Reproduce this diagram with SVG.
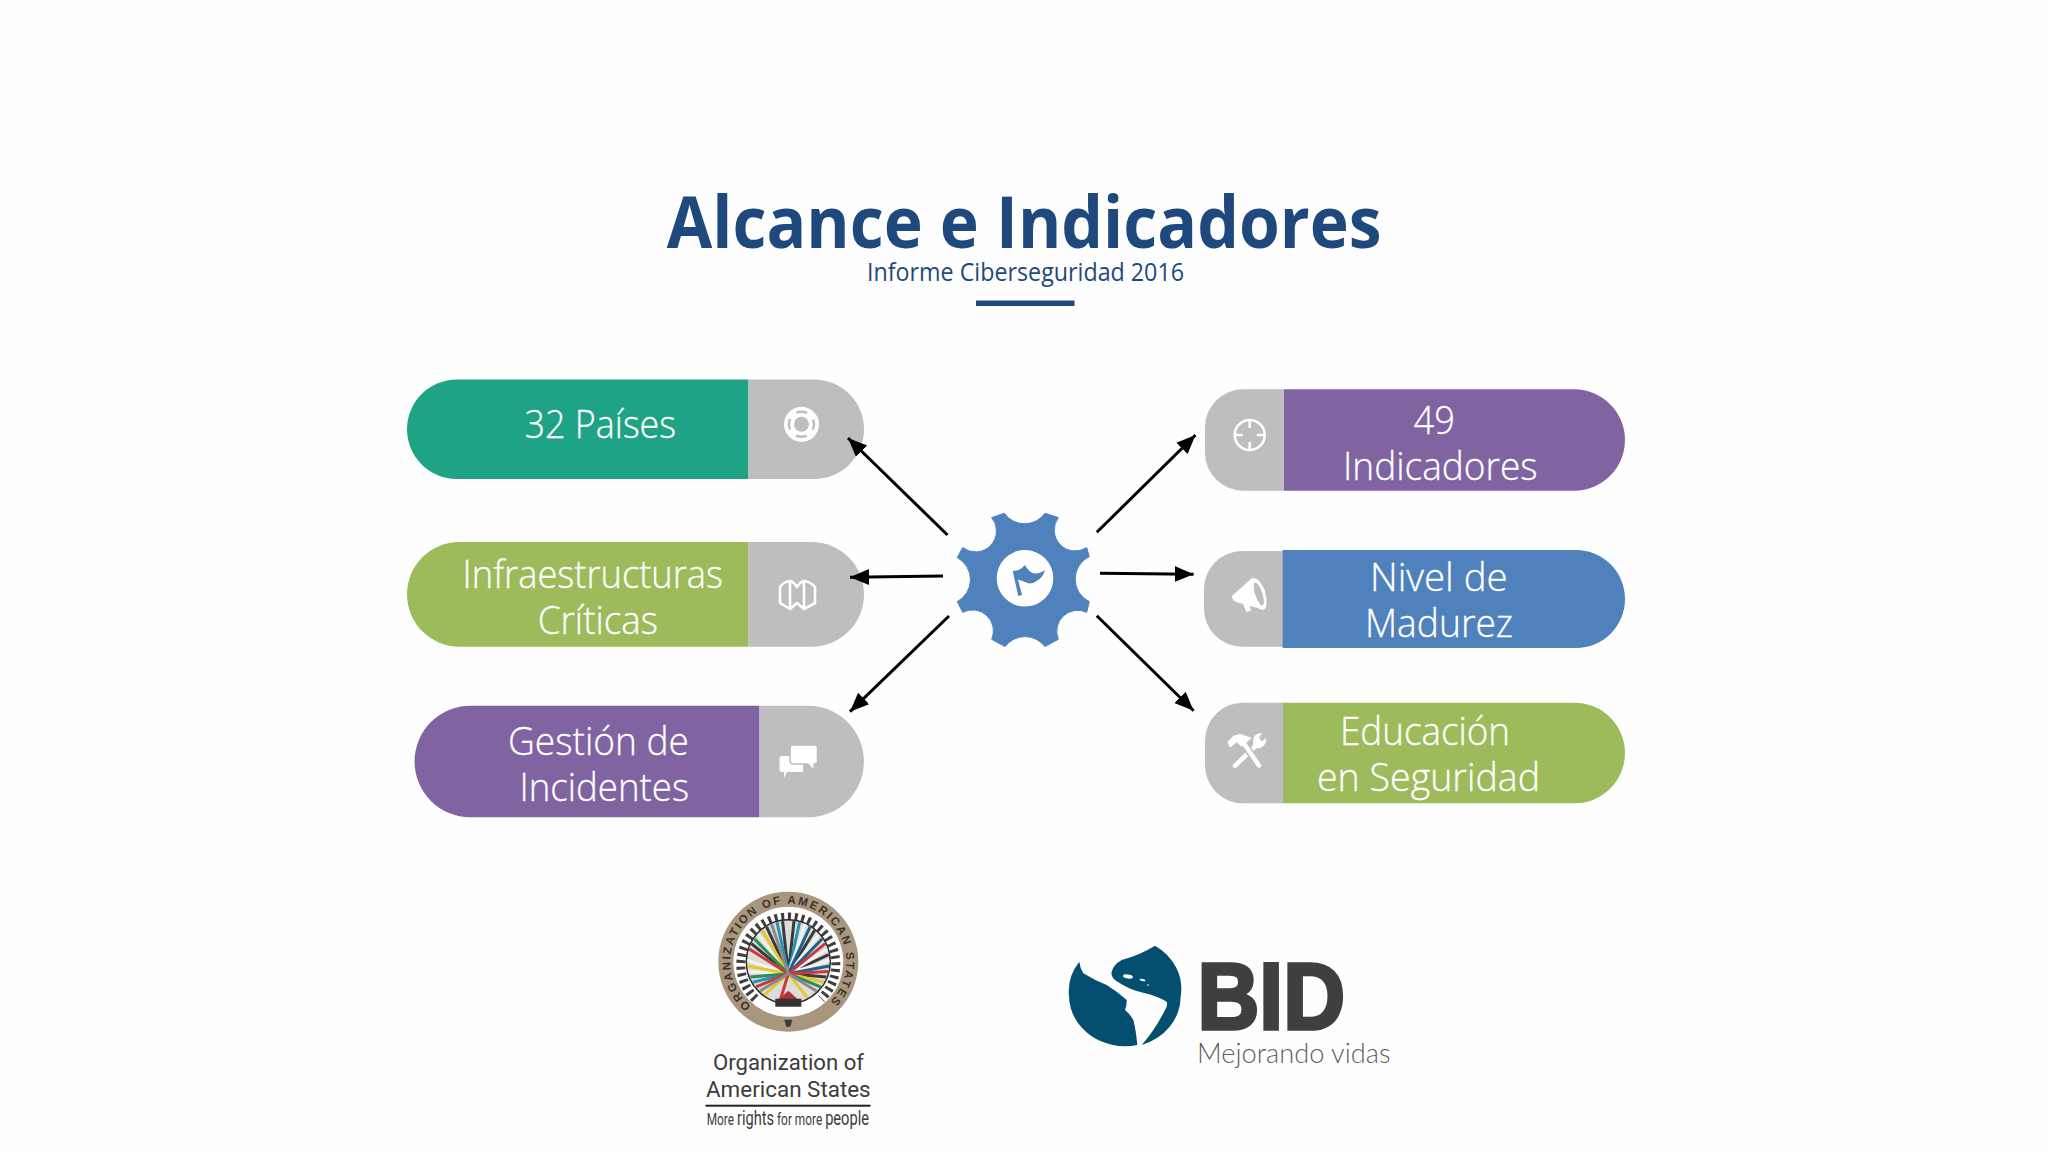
<svg xmlns="http://www.w3.org/2000/svg" width="2048" height="1152" viewBox="0 0 2048 1152">
<defs>
<marker id="ah" markerUnits="userSpaceOnUse" markerWidth="20" markerHeight="18" refX="19" refY="8" orient="auto"><path d="M0 0L19 8L0 16Z" fill="#000"/></marker>
<path id="oasArc" d="M-37.3 44.4A58 58 0 1 1 37.3 44.4"/>
</defs>
<style>
.gray{fill:#BEBDBF}
.lbl{font-family:"Open Sans","Noto Sans","Liberation Sans",sans-serif;font-weight:300;font-size:39px;fill:#fff;stroke:#fff;stroke-width:.3}
.conn{stroke:#000;stroke-width:3;fill:none;marker-end:url(#ah)}
.ic{fill:none;stroke:#fff;stroke-width:2.6;stroke-linejoin:round}
.icf{fill:#fff}
.oas{font-family:Roboto,"Liberation Sans",sans-serif;fill:#3c3c3c}
.sp{stroke-width:3;fill:none}
</style>
<rect width="2048" height="1152" fill="#FEFEFE"/>

<g id="title">
<text x="666.7" y="248" font-family="'Open Sans','Noto Sans','Liberation Sans',sans-serif" font-weight="700" font-size="72" fill="#1F497D" textLength="715" lengthAdjust="spacingAndGlyphs">Alcance e Indicadores</text>
<text x="867" y="281" font-family="'Open Sans','Noto Sans','Liberation Sans',sans-serif" font-weight="400" font-size="25" fill="#1F497D" textLength="317" lengthAdjust="spacingAndGlyphs">Informe Ciberseguridad 2016</text>
<rect x="976" y="300.5" width="98.5" height="5.5" fill="#1F497D"/>
</g>

<g id="node-paises">
<path d="M748.5 379.5H457A50 49.75 0 0 0 457 479H748.5Z" fill="#1FA385"/>
<path class="gray" d="M748.5 379.5H814A50 49.75 0 0 1 814 479H748.5Z"/>
<text class="lbl" x="524.6" y="438.3" textLength="151.4" lengthAdjust="spacingAndGlyphs">32 Países</text>
<circle cx="801.5" cy="424.3" r="17.5" class="icf"/>
<circle cx="801.5" cy="424.3" r="7.5" class="gray"/>
<circle cx="801.5" cy="424.3" r="12.5" fill="none" stroke="#BEBDBF" stroke-width="2.5" stroke-dasharray="11 8.63" stroke-dashoffset="5.5"/>
</g>

<g id="node-infraestructuras">
<path d="M748.5 542H459.4A52.4 52.35 0 0 0 459.4 646.7H748.5Z" fill="#9DBB5B"/>
<path class="gray" d="M748.5 542H811.6A52.4 52.35 0 0 1 811.6 646.7H748.5Z"/>
<text class="lbl" x="462.6" y="587.5" textLength="260.4" lengthAdjust="spacingAndGlyphs">Infraestructuras</text>
<text class="lbl" x="537.7" y="633.5" textLength="120.3" lengthAdjust="spacingAndGlyphs">Críticas</text>
<path class="ic" d="M780 587Q784 581.5 790 581Q794 582 797 587Q800 582 804 581Q810 581.5 815 587V603L804 609L797 603L790 609L780 603Z M790 581V609M804 581V609"/>
</g>

<g id="node-incidentes">
<path d="M759.5 705.7H470.3A55.8 55.8 0 0 0 470.3 817.3H759.5Z" fill="#8064A2"/>
<path class="gray" d="M759.5 705.7H808.2A55.8 55.8 0 0 1 808.2 817.3H759.5Z"/>
<text class="lbl" x="508" y="755.3" textLength="181" lengthAdjust="spacingAndGlyphs">Gestión de</text>
<text class="lbl" x="519.5" y="801.3" textLength="169.5" lengthAdjust="spacingAndGlyphs">Incidentes</text>
<path class="icf" d="M782 756H803V772H787L784 778V772H782Q779.5 772 779.5 769V759Q779.5 756 782 756Z"/>
<path class="icf" stroke="#BEBDBF" stroke-width="1.5" d="M793 745H814Q817.5 745 817.5 748.5V761Q817.5 764 814 764V771L808 764H793Q790 764 790 761V748.5Q790 745 793 745Z"/>
</g>

<g id="node-indicadores">
<path class="gray" d="M1284 389.3H1243A38 38 0 0 0 1205 427.3V452.7A38 38 0 0 0 1243 490.7H1284Z"/>
<path d="M1284 389.3H1574.3A50.7 50.7 0 0 1 1574.3 490.7H1284Z" fill="#8064A2"/>
<text class="lbl" x="1413.6" y="434" textLength="41.4" lengthAdjust="spacingAndGlyphs">49</text>
<text class="lbl" x="1343" y="480.3" textLength="194.5" lengthAdjust="spacingAndGlyphs">Indicadores</text>
<circle class="ic" cx="1249.7" cy="435" r="15"/>
<path class="ic" stroke-width="2" d="M1249.7 420V428M1249.7 442V450M1234.7 435H1242.7M1256.7 435H1264.7"/>
</g>

<g id="node-madurez">
<path class="gray" d="M1283 551H1242A38 38 0 0 0 1204 589V608.7A38 38 0 0 0 1242 646.7H1283Z"/>
<path d="M1282.7 550H1576A49 49 0 0 1 1576 648H1282.7Z" fill="#4F81BD"/>
<text class="lbl" x="1370" y="591.3" textLength="137.7" lengthAdjust="spacingAndGlyphs">Nivel de</text>
<text class="lbl" x="1365" y="637.3" textLength="148" lengthAdjust="spacingAndGlyphs">Madurez</text>
<path class="icf" d="M1232 596Q1232 600 1236 602L1243 604L1246.5 612L1251 610.5L1249.5 606L1263 609.3L1265 590L1252 578Z"/>
<ellipse cx="1258.3" cy="594" rx="7" ry="16.5" fill="#fff" transform="rotate(-18 1258.3 594)"/>
<ellipse cx="1258.8" cy="594" rx="3.6" ry="12" fill="#BEBDBF" transform="rotate(-18 1258.8 594)"/>
</g>

<g id="node-educacion">
<path class="gray" d="M1283.5 702.7H1243A38 38 0 0 0 1205 740.7V765.3A38 38 0 0 0 1243 803.3H1283.5Z"/>
<path d="M1283 702.7H1574.7A50.3 50.3 0 0 1 1574.7 803.3H1283Z" fill="#9DBB5B"/>
<text class="lbl" x="1340" y="744.6" textLength="170" lengthAdjust="spacingAndGlyphs">Educación</text>
<text class="lbl" x="1317" y="791.3" textLength="223" lengthAdjust="spacingAndGlyphs">en Seguridad</text>
<line x1="1235" y1="765.7" x2="1256.7" y2="745" stroke="#fff" stroke-width="4.5" stroke-linecap="round"/>
<path class="icf" d="M1253 745Q1252 737 1257 734Q1260 733 1262 733L1259 738L1262 741.5L1266 738Q1267 744 1262 747Q1259 749 1256 748Z"/>
<line x1="1245" y1="745" x2="1259" y2="765.5" stroke="#BEBDBF" stroke-width="7.5"/>
<line x1="1245" y1="745" x2="1259" y2="765.5" stroke="#fff" stroke-width="4.5" stroke-linecap="round"/>
<path class="icf" d="M1227.3 742.3L1230 747.7L1236.7 742.3L1241.7 746.7L1248.3 741L1251.7 737.7L1240 734L1233.3 735.7Z"/>
</g>

<g id="node-centro">
<g transform="translate(1025 578.3)">
<path fill="#4F81BD" stroke="#4F81BD" stroke-width="1" stroke-linejoin="round" d="M20 -65A25 25 0 0 1 -20.7 -65L-33.3 -60.7A21 21 0 0 1 -62.3 -30.7L-67.7 -20.7A25 25 0 0 1 -67.7 23.3L-62.3 34A21 21 0 0 1 -33.3 61L-20 68.3A25 25 0 0 1 20 68.3L33.3 61A21 21 0 0 1 61.7 34L64.3 23.3A25 25 0 0 1 64.3 -21.7L61.7 -30.7A21 21 0 0 1 33.3 -60.7Z"/>
<circle r="28.3" fill="#fff"/>
</g>
<path fill="#4F81BD" d="M1012.7 571Q1020 571 1025 565Q1028 571 1033.3 573.3Q1040 574 1045 570Q1043 577 1038.3 580Q1033 584 1028.3 583.3Q1023 581 1018 579.5L1022 595L1018.3 596Z"/>
</g>

<g id="connectors">
<line class="conn" x1="947.5" y1="535" x2="848" y2="438"/>
<line class="conn" x1="943" y1="576" x2="850" y2="577.3"/>
<line class="conn" x1="949" y1="616" x2="850" y2="711.7"/>
<line class="conn" x1="1096.8" y1="532.3" x2="1195.5" y2="435"/>
<line class="conn" x1="1100" y1="573.3" x2="1193.6" y2="574.3"/>
<line class="conn" x1="1096.8" y1="615.7" x2="1193.6" y2="710.7"/>
</g>

<g id="logo-oas">
<g transform="translate(788.3 961.7)">
<circle r="70" fill="#A8967E"/>
<circle r="55" fill="#fff"/>
<text font-family="'Liberation Sans',sans-serif" font-weight="700" font-size="11.5" fill="#3a3226" letter-spacing="1.9"><textPath href="#oasArc">ORGANIZATION OF AMERICAN STATES</textPath></text>
<path d="M-33 37A47.5 47.5 0 1 1 33 37" fill="none" stroke="#3f3f3f" stroke-width="9" stroke-dasharray="3 3.6"/>
<circle r="42" fill="#dcdcd8" stroke="#2a2a2a" stroke-width="1.5"/>
<g class="sp">
<path stroke="#3a3a3a" d="M0 12L-5.7 -40.6M0 12L5.7 -40.6M0 12L-21.7 -34.8M0 12L26.4 -31.4M0 12L40.4 -7.1M0 12L-36.9 -18M0 12L38 15.4"/>
<path stroke="#2a8fb5" d="M0 12L-11.3 -39.4M0 12L11.3 -39.4M0 12L-35.5 20.5"/>
<path stroke="#f2f2f2" d="M0 12L16.7 -37.5M0 12L30.5 -27.4M0 12L-30.5 -27.4M0 12L39 -12.7M0 12L-41 -1.4M0 12L-39.8 9.9M0 12L41 -1.4"/>
<path stroke="#e6c82e" d="M0 12L-26.4 -31.4M0 12L-40.8 4.3M0 12L35.5 20.5M0 12L-24.1 33.2M0 12L19.2 36.2"/>
<path stroke="#1c5f96" d="M0 12L21.7 -34.8M0 12L34 -22.9M0 12L40.8 4.3"/>
<path stroke="#27905a" d="M0 12L-34 -22.9M0 12L-38 15.4M0 12L32.3 25.2"/>
<path stroke="#c93a3f" d="M0 12L36.9 -18M0 12L-39 -12.7M0 12L-32.3 25.2M0 12L39.8 9.9M0 12L-8 38"/>
<path stroke="#8a8a8a" d="M0 12L-16.7 -37.5M0 12L28.5 29.5M0 12L-28.5 29.5"/>
</g>
<path fill="#b23030" d="M-10 38L0 29L10 38Z"/>
<rect x="-13" y="37" width="26" height="8" fill="#333"/>
<path d="M-4 58L4 58L2 65L-2 65Z" fill="#3a3a3a"/>
</g>
<text class="oas" x="713" y="1070" font-size="22" textLength="151" lengthAdjust="spacingAndGlyphs">Organization of</text>
<text class="oas" x="706" y="1096.7" font-size="22" textLength="164.7" lengthAdjust="spacingAndGlyphs">American States</text>
<rect x="705.5" y="1104.7" width="165" height="2" fill="#222"/>
<text class="oas" x="706.7" y="1125" font-size="17" textLength="162.3" lengthAdjust="spacingAndGlyphs">More <tspan font-size="21">rights</tspan> for more <tspan font-size="21">people</tspan></text>
</g>

<g id="logo-bid">
<path fill="#044F70" d="M1079.3 961.7A56 51 0 0 0 1069 996.5A56 51 0 0 0 1137.3 1045Q1136 1030 1133.3 1020Q1130 1014 1125 1010Q1127 1005 1126.7 1000Q1118 992 1106.7 985Q1094 980 1083.3 973.3Q1080 968 1079.3 961.7Z"/>
<path fill="#044F70" d="M1155 945.7A56 51 0 0 1 1180.7 996.5A56 51 0 0 1 1141.7 1045Q1155 1030 1165 1010Q1168 1006 1166.7 1001.7Q1157 996 1145 993.3Q1130 990 1120 983.3Q1110 978 1111.7 971.7Q1113 965 1121.7 960Q1140 955 1155 945.7Z"/>
<ellipse cx="1128" cy="976.5" rx="5" ry="2" fill="#fff" transform="rotate(8 1128 976.5)"/>
<ellipse cx="1142.5" cy="980" rx="3" ry="1" fill="#fff" transform="rotate(15 1142.5 980)"/>
<circle cx="1148" cy="985" r="0.8" fill="#fff"/>
<text x="1197.5" y="1029" font-family="'Liberation Sans',sans-serif" font-weight="700" font-size="94" fill="#3F3E40" stroke="#3F3E40" stroke-width="3.5" textLength="147.5" lengthAdjust="spacingAndGlyphs">BID</text>
<text x="1197" y="1062.7" font-family="Lato,'Liberation Sans',sans-serif" font-weight="300" font-size="27" fill="#5f5f61" textLength="193.5" lengthAdjust="spacingAndGlyphs">Mejorando vidas</text>
</g>
</svg>
